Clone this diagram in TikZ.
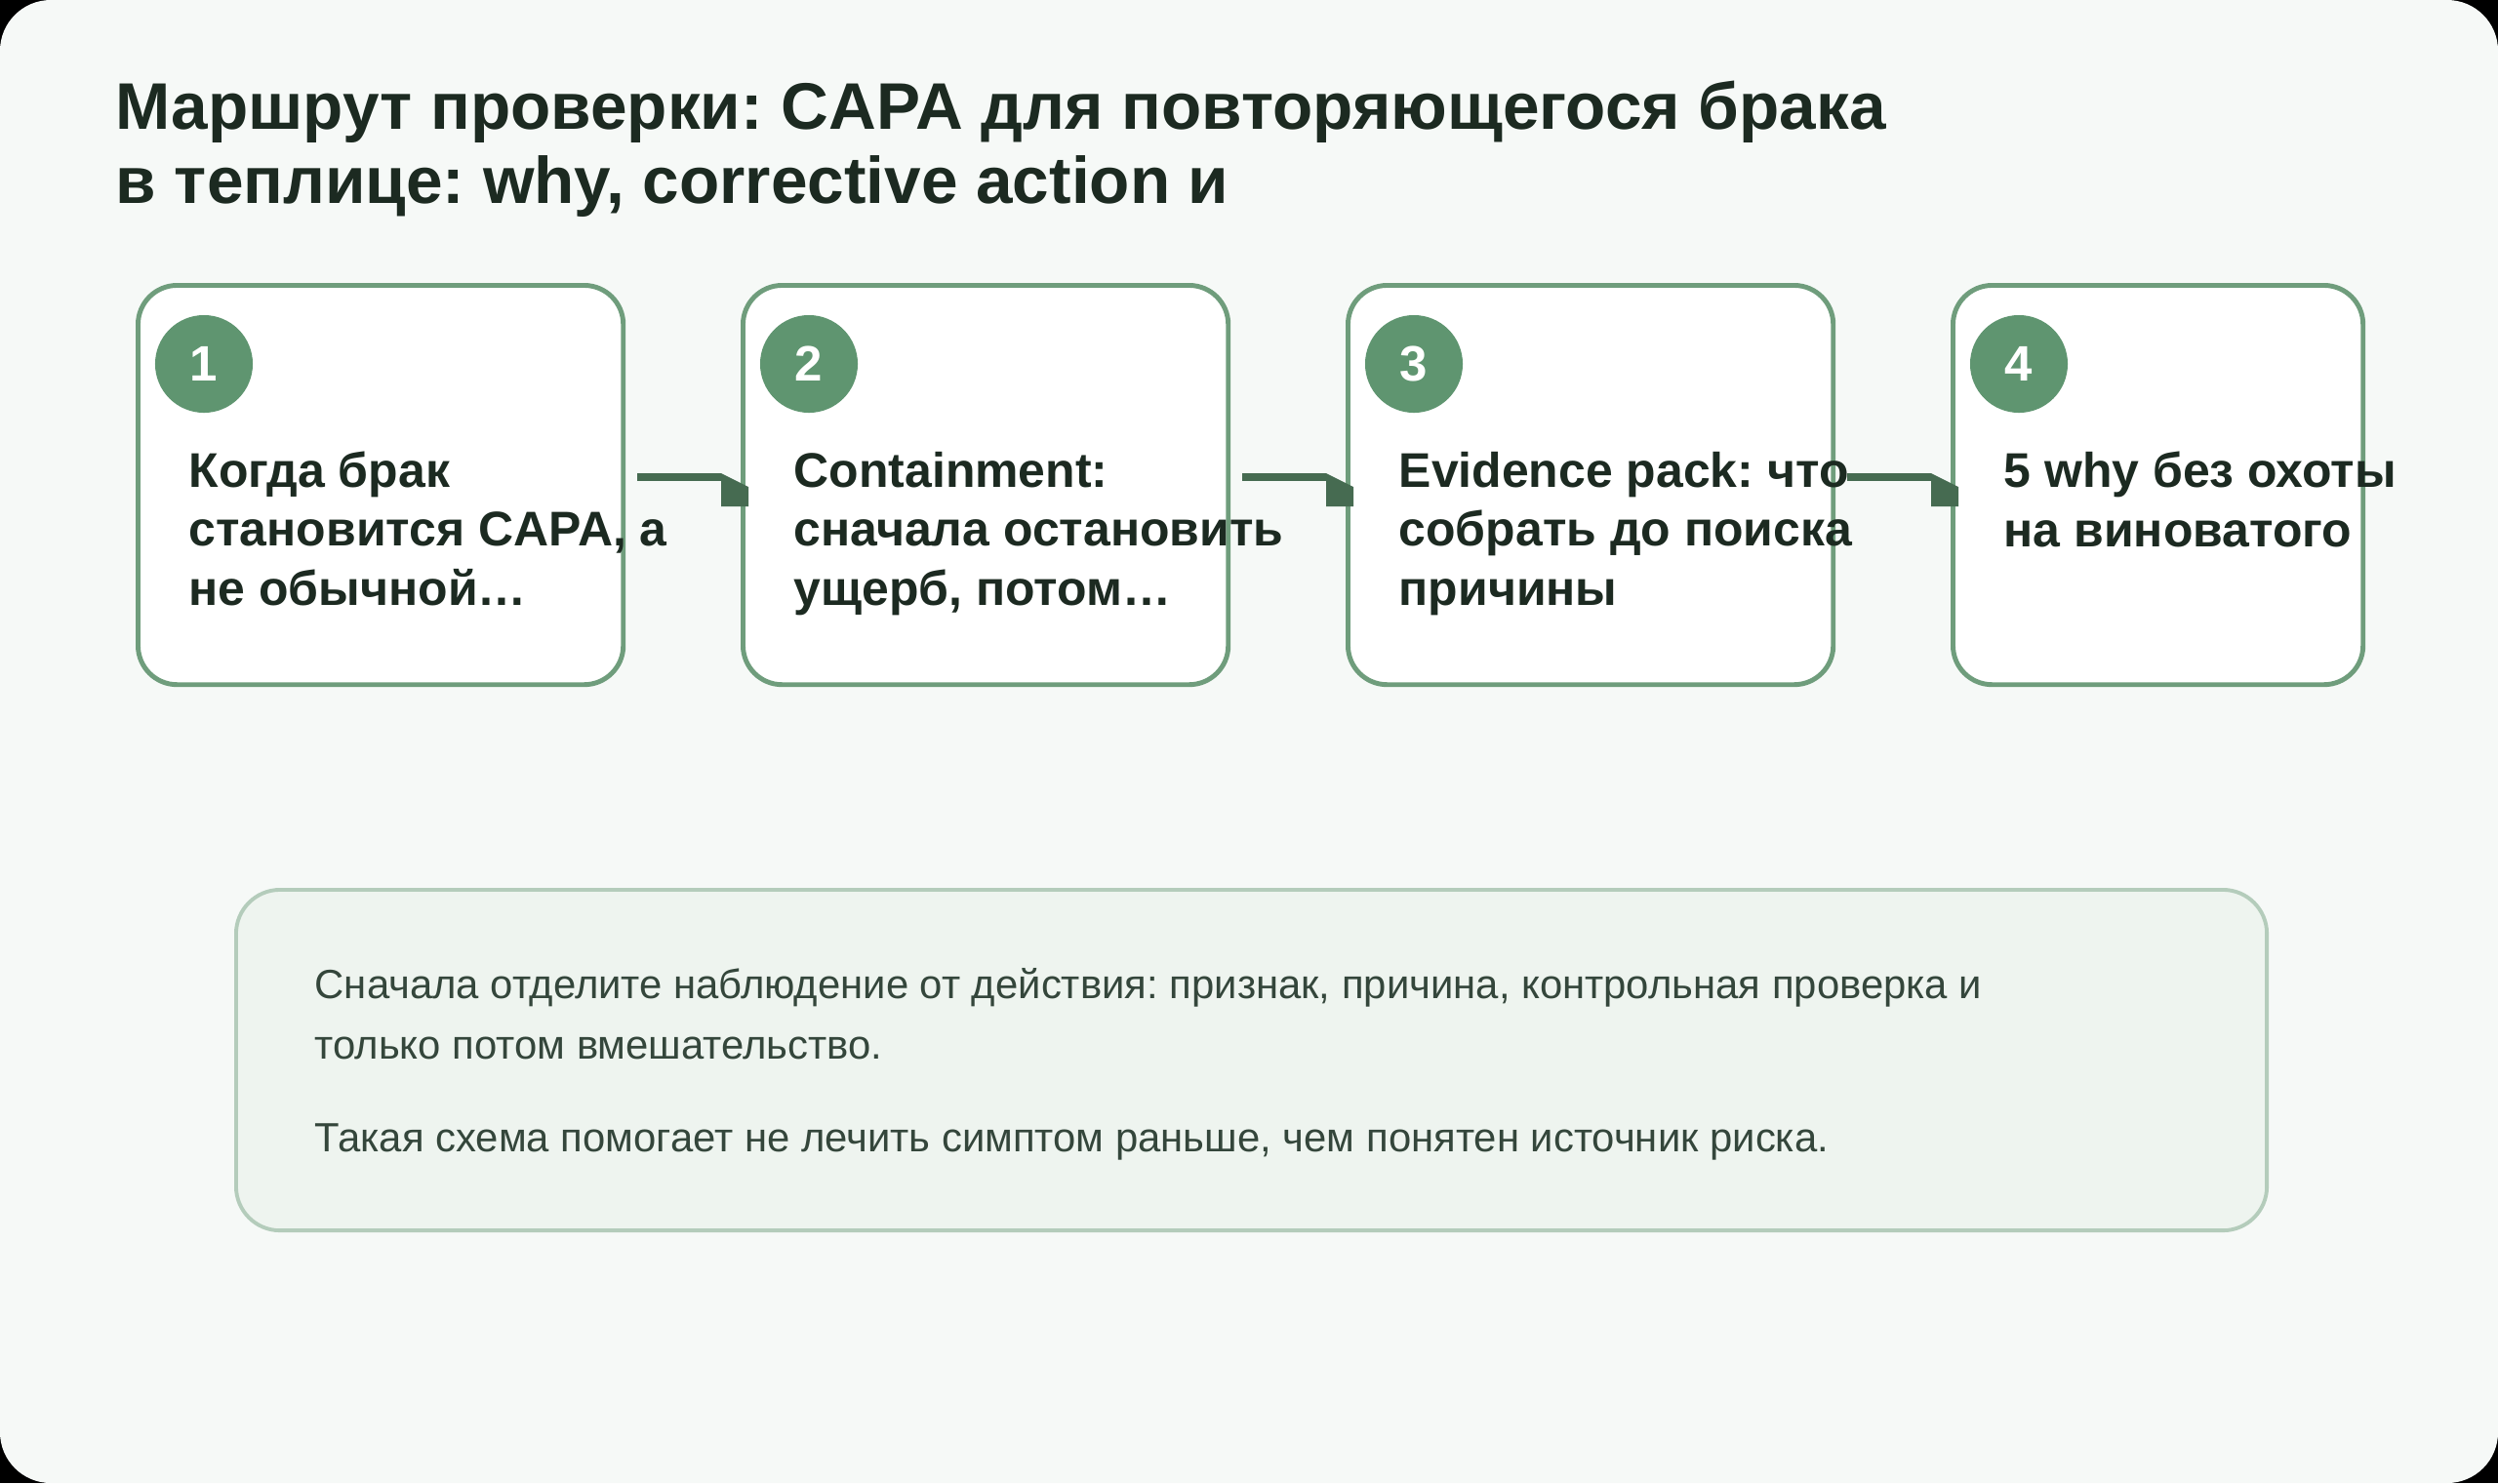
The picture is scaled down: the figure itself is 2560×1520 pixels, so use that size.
\documentclass[tikz,border=0pt]{standalone}
\usepackage{fontspec}
\setmainfont{Liberation Sans}
\frenchspacing
\usetikzlibrary{positioning, calc}
\usepackage{xcolor}
\definecolor{pagebg}{HTML}{F6F9F7}
\definecolor{cardline}{HTML}{6F9D7C}
\definecolor{badgegreen}{HTML}{5F9570}
\definecolor{linkgreen}{HTML}{466B51}
\definecolor{ink}{HTML}{1C2A21}
\definecolor{notefill}{HTML}{EEF4EF}
\definecolor{noteline}{HTML}{B4CCBB}
\definecolor{noteink}{HTML}{34463B}

\begin{document}
\begin{tikzpicture}[
  x=0.01cm, y=-0.01cm,
  card/.style={rectangle, rounded corners=0.4cm, draw=cardline, fill=white,
    line width=1.4pt, minimum width=4.97cm, minimum height=4.09cm, anchor=north west},
  badge/.style={circle, fill=badgegreen, minimum size=1cm, inner sep=0pt,
    text=white, font=\fontsize{14.5}{17}\selectfont\bfseries},
  cardtext/.style={anchor=base west, align=left, inner sep=0pt, text=ink,
    font=\fontsize{14.2}{17.1}\selectfont\bfseries},
  link/.style={draw=linkgreen, line width=2.3pt},
  pics/tip/.style={code={\fill[linkgreen] (0,-4) -- (28,10) -- (28,30) -- (0,30) -- cycle;}},
]
  % page
  \fill[black] (0,0) rectangle (2560,1520);
  \fill[pagebg, rounded corners=0.52cm] (0,0) rectangle (2560,1520);
  \useasboundingbox (0,0) rectangle (2560,1520);

  % base anchor sits on the last line
  \node[anchor=base west, align=left, inner sep=0pt, text=ink,
    font=\fontsize{19.2}{21.6}\selectfont\bfseries] (title) at (118,208)
    {Маршрут проверки: CAPA для повторяющегося брака\\в теплице: why, corrective action и};

  % steps
  \node[card] (c1) at (139,290) {};
  \node[card] (c2) at (759,290) {};
  \node[card] (c3) at (1379,290) {};
  \node[card, minimum width=4.2cm] (c4) at (1999,290) {};

  \node[badge] (b1) at ($(c1.north west)+(70,83)$) {1};
  \node[badge] (b2) at ($(c2.north west)+(70,83)$) {2};
  \node[badge] (b3) at ($(c3.north west)+(70,83)$) {3};
  \node[badge] (b4) at ($(c4.north west)+(70,83)$) {4};

  \node[cardtext] (t1) at ($(c1.north west)+(54,330)$)
    {Когда брак\\становится CAPA, а\\не обычной…};
  \node[cardtext] (t2) at ($(c2.north west)+(54,330)$)
    {Containment:\\сначала остановить\\ущерб, потом…};
  \node[cardtext] (t3) at ($(c3.north west)+(54,330)$)
    {Evidence pack: что\\собрать до поиска\\причины};
  \node[cardtext] (t4) at ($(c4.north west)+(54,270)$)
    {5 why без охоты\\на виноватого};

  \draw[link] ($(c1.north east)+(12,199)$) -- ($(c2.north west)+(-20,199)$) pic {tip};
  \draw[link] ($(c2.north east)+(12,199)$) -- ($(c3.north west)+(-20,199)$) pic {tip};
  \draw[link] ($(c3.north east)+(12,199)$) -- ($(c4.north west)+(-20,199)$) pic {tip};

  % note
  \node[rectangle, rounded corners=0.45cm, draw=noteline, fill=notefill, line width=1.1pt,
    minimum width=20.8cm, minimum height=3.49cm, anchor=north west] (note) at (240,910) {};
  \node[anchor=base west, align=left, inner sep=0pt, text=noteink,
    font=\fontsize{11.9}{17.6}\selectfont] (notetext) at ($(note.north west)+(82,270)$)
    {Сначала отделите наблюдение от действия: признак, причина, контрольная проверка и\\
     только потом вмешательство.\\[9.4pt]
     Такая схема помогает не лечить симптом раньше, чем понятен источник риска.};
\end{tikzpicture}
\end{document}
